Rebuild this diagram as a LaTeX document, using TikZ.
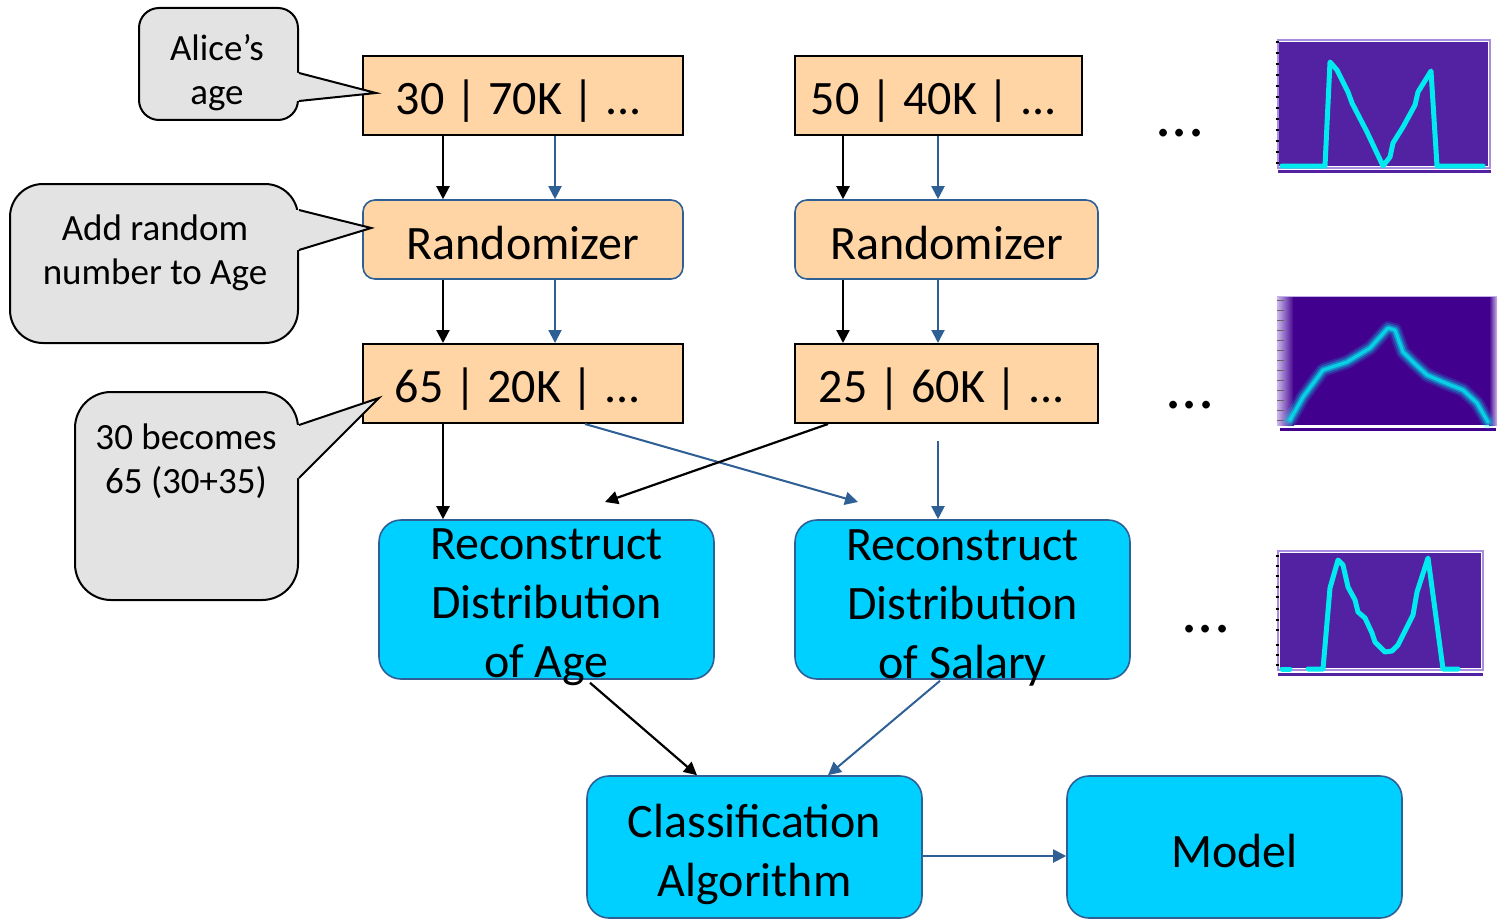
\documentclass[tikz,border=0pt]{standalone}
\usepackage{fontspec}
\setmainfont{Carlito}
\usetikzlibrary{arrows.meta}

\definecolor{peach}{RGB}{255,213,165}
\definecolor{cyanbox}{RGB}{0,208,255}
\definecolor{edgeblue}{RGB}{46,96,150}
\definecolor{calloutgray}{RGB}{227,227,227}
\definecolor{plotpurple}{RGB}{82,34,162}
\definecolor{plotdark}{RGB}{66,0,142}
\definecolor{plotline}{RGB}{0,234,240}
\definecolor{plotframe}{RGB}{170,140,225}

\tikzset{
  bigtext/.style={font=\fontsize{48}{59}\selectfont, align=center, inner sep=0pt},
  smalltext/.style={font=\fontsize{37}{44}\selectfont, align=center},
  dots/.style={font=\fontsize{64}{64}\selectfont, inner sep=0pt},
  databox/.style={draw=black, line width=2pt, fill=peach, inner sep=0pt},
  randbox/.style={draw=edgeblue, line width=1.6pt, fill=peach, rounded corners=12pt, inner sep=0pt},
  procbox/.style={draw=edgeblue, line width=1.6pt, fill=cyanbox, rounded corners=22pt, inner sep=0pt},
  callout/.style={draw=black, line width=2pt, fill=calloutgray, inner sep=0pt},
  blk/.style={draw=black, line width=2.2pt, -{Triangle[length=13pt,width=13pt]}},
  blu/.style={draw=edgeblue, line width=2pt, -{Triangle[length=13pt,width=13pt]}},
  pointer/.style={draw=black, line width=2pt, line join=miter},
  curve/.style={draw=plotline, line width=5pt, line join=round, line cap=round},
}

\begin{document}
\begin{tikzpicture}[x=1pt,y=-1pt]
\useasboundingbox (0,0) rectangle (1499,923);

% ---------- data records ----------
\node[databox, minimum width=320pt, minimum height=79pt] (d1) at (523,95.5) {};
\node[bigtext] (d1t) at ([xshift=-4pt,yshift=-6pt]d1.center) {30 | 70K | ...};
\node[databox, minimum width=287pt, minimum height=79pt] (d2) at (938.5,95.5) {};
\node[bigtext] (d2t) at ([xshift=-4.5pt,yshift=-6pt]d2.center) {50 | 40K | ...};

% ---------- randomizers ----------
\node[randbox, minimum width=320pt, minimum height=79pt] (r1) at (523,239.5) {};
\node[bigtext] (r1t) at ([yshift=-4pt]r1.center) {Randomizer};
\node[randbox, minimum width=303pt, minimum height=79pt] (r2) at (946.5,239.5) {};
\node[bigtext] (r2t) at ([yshift=-4pt]r2.center) {Randomizer};

% ---------- randomized records ----------
\node[databox, minimum width=320pt, minimum height=79pt] (n1) at (523,383.5) {};
\node[bigtext] (n1t) at ([xshift=-5pt,yshift=-6pt]n1.center) {65 | 20K | ...};
\node[databox, minimum width=303pt, minimum height=79pt] (n2) at (946.5,383.5) {};
\node[bigtext] (n2t) at ([xshift=-4.5pt,yshift=-6pt]n2.center) {25 | 60K | ...};

% ---------- reconstruction and mining ----------
\node[procbox, minimum width=335pt, minimum height=159pt] (rc1) at (546.5,599.5) {};
\node[bigtext] (rc1t) at ([yshift=-8pt]rc1.center) {Reconstruct\\Distribution\\of Age};
\node[procbox, minimum width=335pt, minimum height=159pt] (rc2) at (962.5,599.5) {};
\node[bigtext] (rc2t) at ([yshift=-8pt]rc2.center) {Reconstruct\\Distribution\\of Salary};
\node[procbox, minimum width=335pt, minimum height=142pt] (cls) at (754.5,847) {};
\node[bigtext] (clst) at ([yshift=-7pt]cls.center) {Classification\\Algorithm};
\node[procbox, minimum width=335pt, minimum height=142pt] (mdl) at (1234.5,847) {};
\node[bigtext] (mdlt) at ([yshift=-4pt]mdl.center) {Model};

% ---------- ellipses ----------
\node[dots, anchor=base] (e1) at (1180,136) {...};
\node[dots, anchor=base] (e2) at (1190,408) {...};
\node[dots, anchor=base] (e3) at (1206,632) {...};

% ---------- connectors, left column ----------
\coordinate (a1) at ([xshift=-80pt]d1.south);
\coordinate (a2) at ([xshift=32pt]d1.south);
\draw[blk] (a1) -- (a1 |- r1.north);
\draw[blu] (a2) -- (a2 |- r1.north);
\coordinate (a3) at ([xshift=-80pt]r1.south);
\coordinate (a4) at ([xshift=32pt]r1.south);
\draw[blk] (a3) -- (a3 |- n1.north);
\draw[blu] (a4) -- (a4 |- n1.north);
\coordinate (a5) at ([xshift=-80pt]n1.south);
\draw[blk] (a5) -- (a5 |- rc1.north);

% ---------- connectors, right column ----------
\coordinate (b1) at ([xshift=-95.5pt]d2.south);
\coordinate (b2) at ([xshift=-0.5pt]d2.south);
\draw[blk] (b1) -- (b1 |- r2.north);
\draw[blu] (b2) -- (b2 |- r2.north);
\coordinate (b3) at ([xshift=-103.5pt]r2.south);
\coordinate (b4) at ([xshift=-8.5pt]r2.south);
\draw[blk] (b3) -- (b3 |- n2.north);
\draw[blu] (b4) -- (b4 |- n2.north);
\coordinate (b5) at ([xshift=-8.5pt,yshift=-17pt]n2.south);
\draw[blu] (b5) -- (b5 |- rc2.north);

% ---------- crossing connectors ----------
\coordinate (c1) at ([xshift=62pt]n1.south);
\coordinate (c1end) at (858,502);
\draw[blu] (c1) -- (c1end);
\coordinate (c2) at ([xshift=-118.5pt]n2.south);
\coordinate (c2end) at (605,502);
\draw[blk] (c2) -- (c2end);

% ---------- into the classifier ----------
\draw[blk] ([xshift=43.5pt,yshift=-3pt]rc1.south) -- ([xshift=-57.5pt]cls.north);
\draw[blu] ([xshift=-22.5pt,yshift=-1pt]rc2.south) -- ([xshift=73.5pt]cls.north);
\draw[blu] ([yshift=-9pt]cls.east) -- ([yshift=-9pt]mdl.west);

% ---------- callouts ----------
\node[callout, rounded corners=20pt, minimum width=159pt, minimum height=112pt] (ca) at (218.5,64) {};
\node[smalltext] (cat) at (217,73) {Alice’s\\age};
\coordinate (ca1) at ([yshift=-9pt]ca.east);
\coordinate (ca2) at ([yshift=-37pt]ca.east);
\coordinate (catip) at ([xshift=14pt,yshift=2.5pt]d1.west);
\fill[calloutgray] ([xshift=-3pt]ca1) -- (ca1) -- (catip) -- (ca2) -- ([xshift=-3pt]ca2) -- cycle;
\draw[pointer] (ca1) -- (catip) -- (ca2);

\node[callout, rounded corners=33pt, minimum width=288pt, minimum height=159pt] (cb) at (154,263.5) {};
\node[smalltext] (cbt) at (155,253) {Add random\\number to Age};
\coordinate (cb1) at ([yshift=53.5pt]cb.east);
\coordinate (cb2) at ([yshift=13.5pt]cb.east);
\coordinate (cbtip) at ([xshift=9pt,yshift=11.5pt]r1.west);
\fill[calloutgray] ([xshift=-3pt]cb1) -- (cb1) -- (cbtip) -- (cb2) -- ([xshift=-3pt]cb2) -- cycle;
\draw[pointer] (cb1) -- (cbtip) -- (cb2);

\node[callout, rounded corners=36pt, minimum width=223pt, minimum height=208pt] (cc) at (186.5,496) {};
\node[smalltext] (cct) at (186,461) {30 becomes\\65 (30+35)};
\coordinate (cc1) at ([yshift=71pt]cc.east);
\coordinate (cc2) at ([yshift=18pt]cc.east);
\coordinate (cctip) at ([xshift=17pt,yshift=-14.5pt]n1.west);
\fill[calloutgray] ([xshift=-3pt]cc1) -- (cc1) -- (cctip) -- (cc2) -- ([xshift=-3pt]cc2) -- cycle;
\draw[pointer] (cc1) -- (cctip) -- (cc2);

% ---------- plot: original distribution ----------
\draw[plotframe, line width=1.2pt] (1278,40) rectangle (1490,168);
\fill[plotpurple] (1279,42) rectangle (1488,166);
\fill[plotpurple] (1278,170) rectangle (1491,173);
\foreach \t in {42,53,64,75,86,97,108,119,130,141,152,163}
  \draw[black, line width=1.5pt] (1275.5,\t) -- (1278.5,\t);
\draw[curve] (1282,166) -- (1325,166) -- (1330,62) -- (1337,70) -- (1348,92) -- (1352,103)
  -- (1367,132) -- (1383,166) -- (1390,157) -- (1393,143) -- (1403,127) -- (1415,105)
  -- (1418,92) -- (1431,71) -- (1437,166) -- (1483,166);

% ---------- plot: randomized distribution ----------
\shade[left color=plotframe!60, right color=plotdark] (1277,297) rectangle (1294,425);
\fill[plotdark] (1293,297) rectangle (1490,425);
\shade[left color=plotdark, right color=plotframe!60] (1489,297) rectangle (1497,425);
\draw[plotframe!70, line width=1pt] (1277,296.5) -- (1497,296.5);
\fill[plotdark] (1280,428) rectangle (1496,431);
\foreach \t in {300,310,320,330,340,350,360,370,380,390,400,410,420}
  \draw[black!60, line width=0.8pt] (1277,\t) -- (1284,\t);
\foreach \w/\o in {14/0.15,10/0.25,6/0.45,3/0.7}
  \draw[plotline, line width=\w pt, opacity=\o, line join=round, line cap=round]
    (1290,420) -- (1303,397) -- (1323,370) -- (1347,362) -- (1370,348) -- (1388,328)
    -- (1395,330) -- (1403,352) -- (1413,362) -- (1427,375) -- (1443,382) -- (1463,390)
    -- (1477,403) -- (1488,422);

% ---------- plot: reconstructed distribution ----------
\draw[plotframe, line width=1.2pt] (1278,551) rectangle (1483,670);
\fill[plotpurple] (1280,553) rectangle (1481,668);
\fill[plotpurple] (1278,673) rectangle (1483,676);
\foreach \t in {556,566,576,587,597,609,620,630,645,655,665}
  \draw[black, line width=1.5pt] (1275.5,\t) -- (1278.5,\t);
\draw[curve] (1282,669) -- (1290,669);
\draw[curve] (1308,669) -- (1323,669) -- (1330,588) -- (1338,560) -- (1343,565) -- (1348,587)
  -- (1355,600) -- (1358,612) -- (1365,618) -- (1372,633) -- (1375,642) -- (1385,652)
  -- (1392,651) -- (1398,645) -- (1413,615) -- (1417,592) -- (1428,558) -- (1433,595)
  -- (1443,669) -- (1458,669);
\end{tikzpicture}
\end{document}
